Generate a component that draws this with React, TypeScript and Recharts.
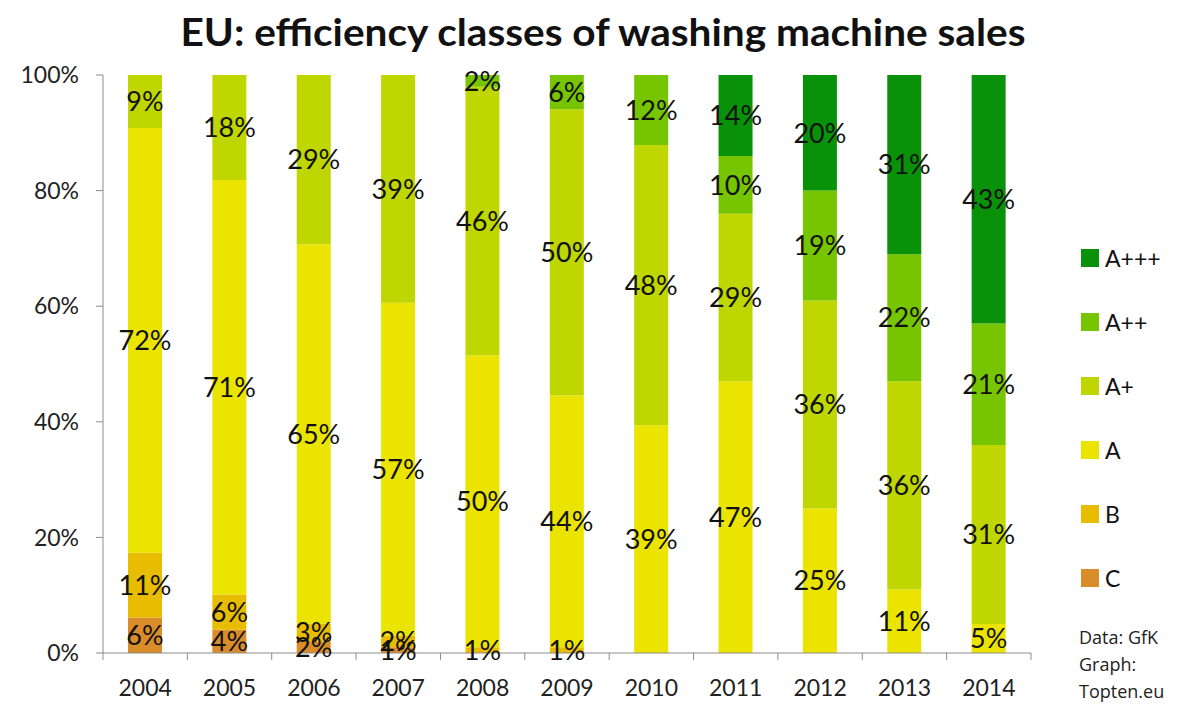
import React from 'react';
import { BarChart, Bar, XAxis, YAxis, LabelList } from 'recharts';

const years = ['2004', '2005', '2006', '2007', '2008', '2009', '2010', '2011', '2012', '2013', '2014'];

// label values per class (shares don't always add up to 100, the bars are normalised)
const classC = [6, 4, 2, 1, 0, 0, 0, 0, 0, 0, 0];
const classB = [11, 6, 3, 2, 1, 1, 0, 0, 0, 0, 0];
const classA = [72, 71, 65, 57, 50, 44, 39, 47, 25, 11, 5];
const classAp = [9, 18, 29, 39, 46, 50, 48, 29, 36, 36, 31];
const classApp = [0, 0, 0, 0, 2, 6, 12, 10, 19, 22, 21];
const classAppp = [0, 0, 0, 0, 0, 0, 0, 14, 20, 31, 43];

const yTicks = [0, 0.2, 0.4, 0.6, 0.8, 1];

const series = [
    { key: 'C', values: classC, color: '#d98c2a' },
    { key: 'B', values: classB, color: '#e8bc00' },
    { key: 'A', values: classA, color: '#ebe300' },
    { key: 'A+', values: classAp, color: '#bfd600' },
    { key: 'A++', values: classApp, color: '#76c500' },
    { key: 'A+++', values: classAppp, color: '#0a910a' },
];

const data = years.map((year, i) => {
    const row: any = { year };
    series.forEach((s) => {
        row[s.key] = s.values[i];
    });
    return row;
});

const FONT = 'Lato, "Open Sans", sans-serif';
const CHART_W = 1183;
const CHART_H = 704;
const X_AXIS_H = 30;
const MARGIN = { top: 75, right: 152, bottom: 51 - X_AXIS_H, left: 0 };
const Y_AXIS_W = 103;
const BAND = (CHART_W - MARGIN.right - Y_AXIS_W) / years.length;

function makeLabel(values: number[]) {
    // empty segments get no label entry, so map the label index back to the year
    const shown = values.map((v, i) => (v ? i : -1)).filter((i) => i >= 0);
    return function SegmentLabel(props: any) {
        const { x, y, width, height, index } = props;
        const v = values[shown[index]];
        if (!v) return null;
        return (
            <text
                x={x + width / 2}
                y={y + height / 2}
                dy="0.36em"
                textAnchor="middle"
                fontFamily={FONT}
                fontSize={27}
                fill="#111"
            >
                {v}%
            </text>
        );
    };
}

function YearTick(props: any) {
    const { x, y, payload, index } = props;
    const last = index === years.length - 1;
    return (
        <g>
            <line x1={x - BAND / 2} x2={x - BAND / 2} y1={y} y2={y + 7} stroke="#8c8c8c" />
            {last && <line x1={x + BAND / 2} x2={x + BAND / 2} y1={y} y2={y + 7} stroke="#8c8c8c" />}
            <text x={x} y={y + 43} textAnchor="middle" fontFamily={FONT} fontSize={23} fill="#222">
                {payload.value}
            </text>
        </g>
    );
}

function LegendBox() {
    const items = [...series].reverse();
    return (
        <div style={{ position: 'absolute', left: 1081, top: 226, fontFamily: FONT, color: '#111' }}>
            {items.map((s) => (
                <div key={s.key} style={{ display: 'flex', alignItems: 'center', height: 64, fontSize: 23 }}>
                    <span style={{ width: 18, height: 18, background: s.color, marginRight: 6, display: 'inline-block' }} />
                    {s.key}
                </div>
            ))}
        </div>
    );
}

export default function App() {
    return (
        <div style={{ position: 'absolute', left: 0, top: 0, width: CHART_W, height: CHART_H, background: '#fff' }}>
            <BarChart width={CHART_W} height={CHART_H} data={data} stackOffset="expand" margin={MARGIN}>
                <text
                    x={603}
                    y={46}
                    textAnchor="middle"
                    fontFamily={FONT}
                    fontWeight={700}
                    fontSize={38}
                    fill="#111"
                    textLength={845}
                    lengthAdjust="spacingAndGlyphs"
                >
                    EU: efficiency classes of washing machine sales
                </text>
                <XAxis
                    dataKey="year"
                    height={X_AXIS_H}
                    tickLine={false}
                    tickSize={0}
                    tickMargin={0}
                    axisLine={{ stroke: '#8c8c8c' }}
                    tick={<YearTick />}
                    interval={0}
                />
                <YAxis
                    width={Y_AXIS_W}
                    domain={[0, 1]}
                    ticks={yTicks}
                    tickFormatter={(v: number) => `${Math.round(v * 100)}%`}
                    axisLine={{ stroke: '#8c8c8c' }}
                    tickLine={{ stroke: '#8c8c8c' }}
                    tickSize={7}
                    tickMargin={17}
                    tick={{ fill: '#222', fontSize: 23, fontFamily: FONT }}
                />
                {series.map((s) => (
                    <Bar key={s.key} dataKey={s.key} stackId="a" fill={s.color} barSize={34} isAnimationActive={false}>
                        <LabelList content={makeLabel(s.values)} />
                    </Bar>
                ))}
            </BarChart>
            <LegendBox />
            <div
                style={{
                    position: 'absolute',
                    left: 1079,
                    top: 624,
                    fontFamily: '"Open Sans", sans-serif',
                    fontSize: 18,
                    lineHeight: '27px',
                    color: '#222',
                }}
            >
                Data: GfK
                <br />
                Graph:
                <br />
                Topten.eu
            </div>
        </div>
    );
}
